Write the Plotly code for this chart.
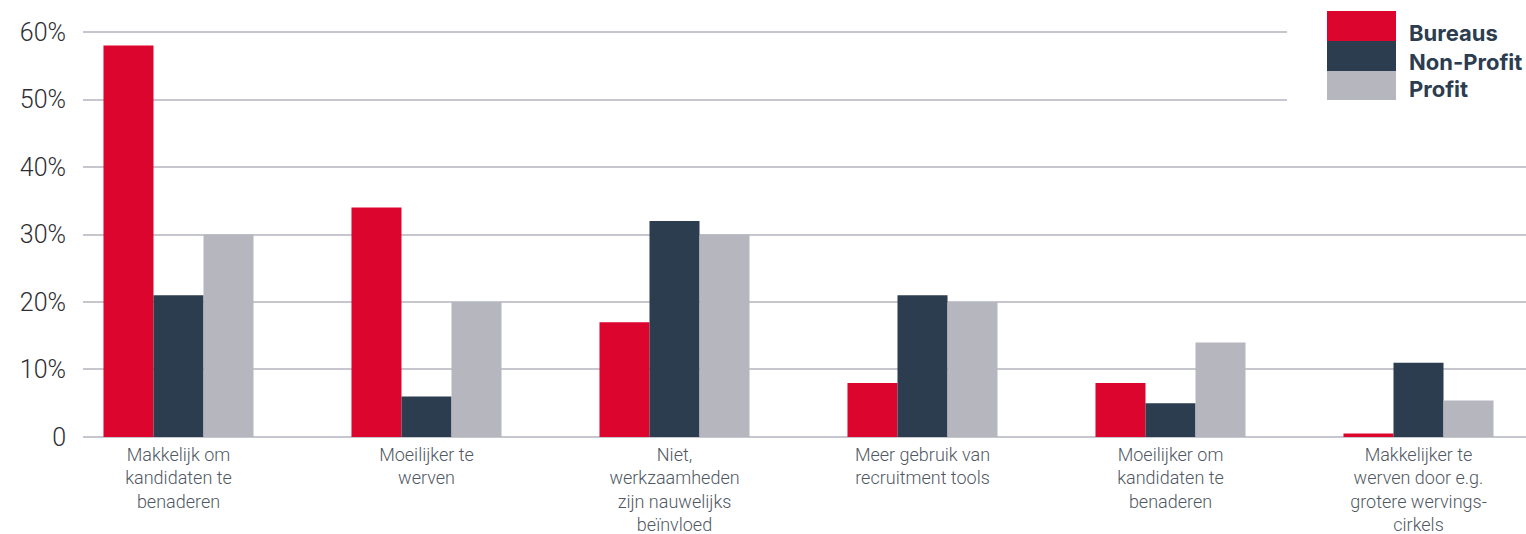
import plotly.graph_objects as go

# Categories (multi-line tick labels) and survey shares per sector, in %
categories = [
    "Makkelijk om<br>kandidaten te<br>benaderen",
    "Moeilijker te<br>werven",
    "Niet,<br>werkzaamheden<br>zijn nauwelijks<br>beïnvloed",
    "Meer gebruik van<br>recruitment tools",
    "Moeilijker om<br>kandidaten te<br>benaderen",
    "Makkelijker te<br>werven door e.g.<br>grotere wervings-<br>cirkels",
]
series_names = ["Bureaus", "Non-Profit", "Profit"]
bureaus = [58, 34, 17, 8, 8, 0.5]
non_profit = [21, 6, 32, 21, 5, 11]
profit = [30, 20, 30, 20, 14, 5.4]
y_tickvals = [0, 10, 20, 30, 40, 50, 60]
y_ticktext = ["0", "10%", "20%", "30%", "40%", "50%", "60%"]

colors = ["#dc052d", "#2b3d4f", "#b6b6bf"]
series_values = [bureaus, non_profit, profit]

W, H = 1526, 534
M_L, M_R, M_T, M_B = 83, 0, 30, 95
PW, PH = W - M_L - M_R, H - M_T - M_B


def px_x(px):
    return (px - M_L) / PW


def px_y(py):
    return (H - M_B - py) / PH


fig = go.Figure()
x_idx = list(range(len(categories)))
for name, vals, col in zip(series_names, series_values, colors):
    fig.add_trace(go.Bar(x=x_idx, y=vals, name=name, marker=dict(color=col, line=dict(width=0)),
                         showlegend=False))

shapes = [
    # blank area behind the legend block
    dict(type="rect", xref="paper", yref="paper", x0=px_x(1287), x1=1.0, y0=px_y(130), y1=px_y(0),
         fillcolor="white", line=dict(width=0), layer="above"),
]
annotations = []
sw_x0, sw_x1 = 1327, 1396
sw_tops = [11, 41, 71]
sw_h = [30, 30, 29]
text_y = [33, 61.5, 89]
for i, (name, col) in enumerate(zip(series_names, colors)):
    shapes.append(dict(type="rect", xref="paper", yref="paper",
                       x0=px_x(sw_x0), x1=px_x(sw_x1),
                       y0=px_y(sw_tops[i] + sw_h[i]), y1=px_y(sw_tops[i]),
                       fillcolor=col, line=dict(width=0), layer="above"))
    annotations.append(dict(text=f"<b>{name}</b>", xref="paper", yref="paper",
                            x=px_x(1407), y=px_y(text_y[i]), xanchor="left", yanchor="middle",
                            showarrow=False, font=dict(family="Inter", size=22, color="#2b3d4f")))

fig.update_layout(
    width=W, height=H,
    margin=dict(l=M_L, r=M_R, t=M_T, b=M_B, pad=0, autoexpand=False),
    paper_bgcolor="white", plot_bgcolor="white",
    barmode="group", bargap=0.395, bargroupgap=0,
    shapes=shapes, annotations=annotations,
    showlegend=False,
    xaxis=dict(
        type="linear", automargin=False,
        range=[(83 - 178.5) / 248, (1526 - 178.5) / 248],
        tickmode="array", tickvals=x_idx, ticktext=categories,
        showgrid=False, zeroline=False, showline=False, ticks="",
        tickfont=dict(family="Roboto", size=18, color="#505863", weight=300),
        ticklabelstandoff=3,
    ),
    yaxis=dict(
        automargin=False,
        range=[-0.3, 60.3],
        tickmode="array", tickvals=y_tickvals, ticktext=y_ticktext,
        showgrid=True, gridcolor="#c6c6ce", gridwidth=1.5,
        zeroline=False, showline=False, ticks="",
        tickfont=dict(family="Roboto", size=25, color="#2e2e33", weight=300),
        ticklabelstandoff=16,
    ),
)

fig.write_html("out.html")
